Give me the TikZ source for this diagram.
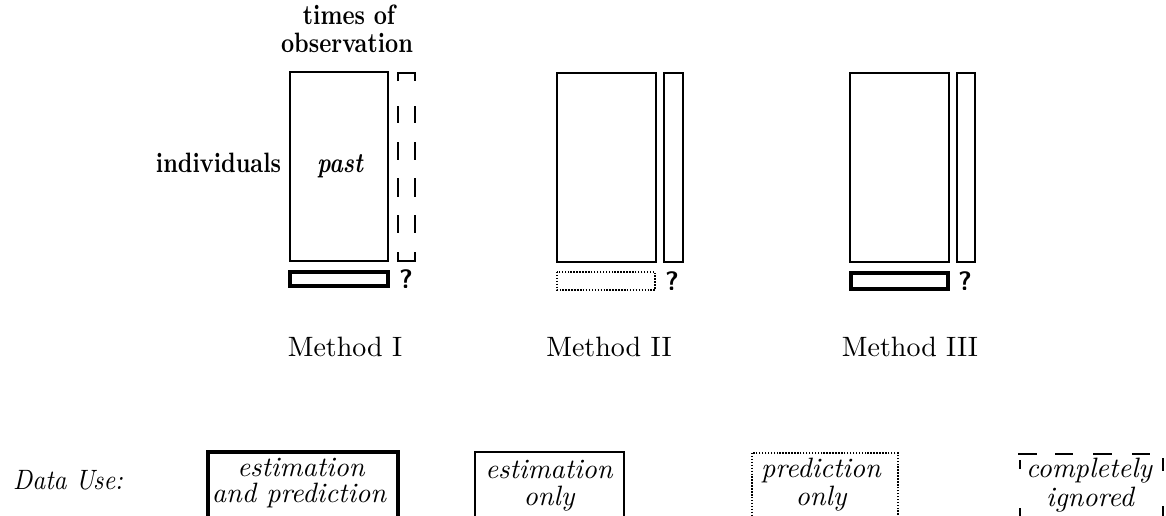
\documentclass[tikz,border=0pt]{standalone}
\usepackage{graphicx}
\newcommand\trm[1]{\scalebox{2.1}{\fontsize{10}{12}\selectfont #1}}
\newcommand\tit[1]{\scalebox{2.1}{\fontsize{10}{12}\selectfont\itshape #1}}
\newcommand\tdu[1]{\scalebox{1.9}[2.1]{\fontsize{10}{12}\selectfont\itshape #1}}
\newcommand\tbf[1]{\scalebox{1.72}[2.1]{\fontsize{10}{12}\selectfont\bfseries #1}}
\newcommand\tbi[1]{\scalebox{1.72}[2.1]{\fontsize{10}{12}\selectfont\bfseries\itshape #1}}
\tikzset{
  every node/.style={inner sep=0pt, outer sep=0pt},
  qmtxt/.style={font=\fontsize{20}{22}\selectfont\sffamily\bfseries},
  thinline/.style={line width=1.3pt},
  thickline/.style={line width=2.6pt},
  dotline/.style={line width=1.2pt, dash pattern=on 1.1pt off 1.1pt},
  dashline/.style={line width=1.5pt},
}
\begin{document}
\begin{tikzpicture}[x=0.75pt, y=-0.75pt]
\useasboundingbox (0,0) rectangle (1166,515);
\clip (0,0) rectangle (1166,515);

% ---------- Method I ----------
\node[anchor=base] (obs1) at (349,24) {\tbf{times of}};
\node[anchor=base] (obs2) at (347,52) {\tbf{observation}};
\node[anchor=base east] (indiv) at (281,172) {\tbf{individuals}};
\node[anchor=base] (past) at (340,172) {\tbi{past}};
\draw[thinline] (290,72) rectangle (388,261);
\draw[dashline]
  (398,81) -- (398,73) -- (415,73) -- (415,81)
  (398,106) -- (398,123) (415,106) -- (415,123)
  (398,142) -- (398,160) (415,142) -- (415,160)
  (398,178) -- (398,197) (415,178) -- (415,197)
  (398,215) -- (398,233) (415,215) -- (415,233)
  (398,252) -- (398,261) -- (415,261) -- (415,252);
\draw[thickline] (290,272) rectangle (388,286);
\node[qmtxt] (q1) at (406,279) {?};
\node[anchor=base] (m1) at (345,356) {\trm{Method I}};

% ---------- Method II ----------
\draw[thinline] (557,73) rectangle (656,262);
\draw[thinline] (664,73) rectangle (683,262);
\draw[dotline] (557,272) rectangle (655,290);
\node[qmtxt] (q2) at (672,281) {?};
\node[anchor=base] (m2) at (609,356) {\trm{Method II}};

% ---------- Method III ----------
\draw[thinline] (850,73) rectangle (949,262);
\draw[thinline] (957,73) rectangle (975,262);
\draw[thickline] (851,273) rectangle (948,289);
\node[qmtxt] (q3) at (965,281) {?};
\node[anchor=base] (m3) at (910,356) {\trm{Method III}};

% ---------- Data use legend ----------
\node[anchor=base east] (datause) at (123,489) {\tdu{Data Use:}};

\draw[thickline] (208,452) rectangle (398,540);
\node[anchor=base] (b1a) at (301,476) {\tit{estimation}};
\node[anchor=base] (b1b) at (299,502) {\tit{and prediction}};

\draw[thinline] (475,452) rectangle (624,540);
\node[anchor=base] (b2a) at (549,478) {\tit{estimation}};
\node[anchor=base] (b2b) at (549,505) {\tit{only}};

\draw[dotline] (752,453) rectangle (898,540);
\node[anchor=base] (b3a) at (821,477) {\tit{prediction}};
\node[anchor=base] (b3b) at (821,505) {\tit{only}};

\draw[dashline]
  (1018,454) -- (1037,454) (1055,454) -- (1073,454)
  (1093,454) -- (1112,454) (1132,454) -- (1150,454)
  (1020,460) -- (1020,469) (1020,508) -- (1020,520)
  (1163,458) -- (1163,471) (1163,506) -- (1163,520);
\node[anchor=base] (b4a) at (1089,477) {\tit{completely}};
\node[anchor=base] (b4b) at (1090,506) {\tit{ignored}};
\end{tikzpicture}
\end{document}
